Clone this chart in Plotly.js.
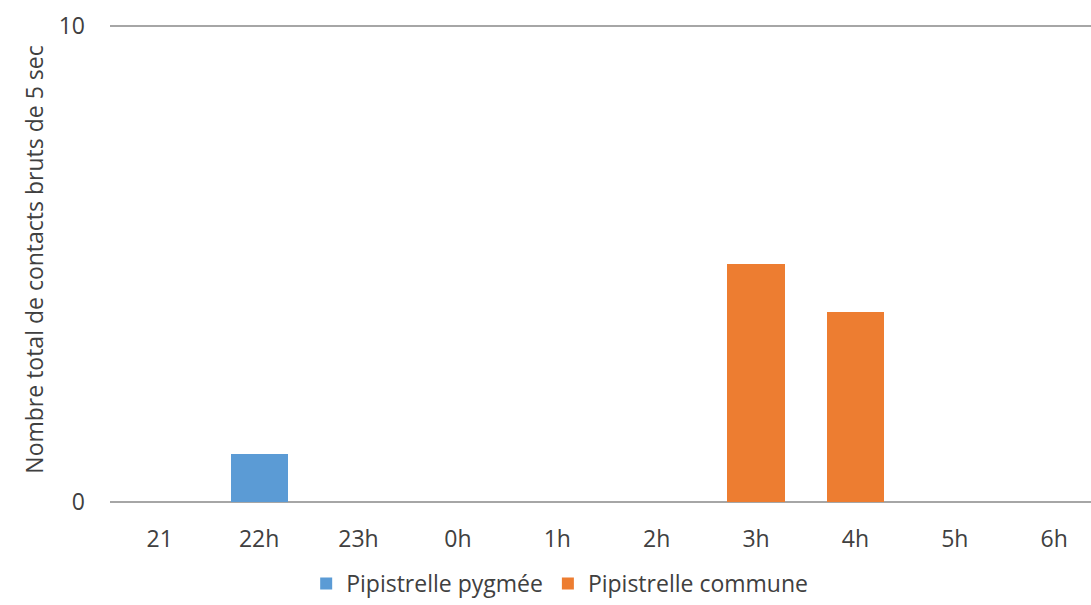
<!DOCTYPE html>
<html>
<head>
<meta charset="utf-8">
<script src="https://cdn.plot.ly/plotly-3.0.1.min.js"></script>
<style>html,body{margin:0;padding:0;background:#fff;}#chart{width:1091px;height:605px;}</style>
</head>
<body>
<div id="chart"></div>
<script>
const categories = ["21", "22h", "23h", "0h", "1h", "2h", "3h", "4h", "5h", "6h"];
const pygmee = [0, 1, 0, 0, 0, 0, 0, 0, 0, 0];
const commune = [0, 0, 0, 0, 0, 0, 5, 4, 0, 0];
const seriesNames = ["Pipistrelle pygmée", "Pipistrelle commune"];
const yTicks = [0, 10];

const font = "'Open Sans', 'Noto Sans', sans-serif";
const textColor = "#404040";
const fs = 23;

const traces = [
  {type: "bar", name: seriesNames[0], x: categories, y: pygmee, marker: {color: "#5B9BD5"}, width: 0.575},
  {type: "bar", name: seriesNames[1], x: categories, y: commune, marker: {color: "#ED7D31"}, width: 0.575}
];

const layout = {
  width: 1091, height: 605,
  margin: {l: 110, r: 0, t: 17, b: 103},
  paper_bgcolor: "#fff", plot_bgcolor: "#fff",
  barmode: "stack",
  showlegend: true,
  font: {family: font, size: fs, color: textColor},
  xaxis: {
    type: "category",
    categoryorder: "array", categoryarray: categories,
    range: [-0.5, 9.37],
    showgrid: false, zeroline: false,
    showline: false,
    ticks: "", ticklabelstandoff: 21,
    tickfont: {family: font, size: fs, color: textColor},
    fixedrange: true
  },
  yaxis: {
    range: [0, 10.19],
    tickvals: yTicks,
    showgrid: true, gridcolor: "#a6a6a6", gridwidth: 1.3,
    zeroline: true, zerolinecolor: "#a6a6a6", zerolinewidth: 1.3,
    showline: false, ticks: "", ticklabelstandoff: 24,
    tickfont: {family: font, size: fs, color: textColor},
    title: {text: "Nombre total de contacts bruts de 5 sec", font: {family: font, size: fs, color: textColor}, standoff: 8},
    fixedrange: true
  },
  legend: {
    orientation: "h",
    xref: "container", yref: "container",
    x: 0.513, xanchor: "center",
    y: -0.008, yanchor: "bottom",
    font: {family: font, size: fs, color: textColor},
    itemwidth: 30, traceorder: "normal"
  }
};

Plotly.newPlot("chart", traces, layout, {displayModeBar: false, staticPlot: true});
</script>
</body>
</html>
